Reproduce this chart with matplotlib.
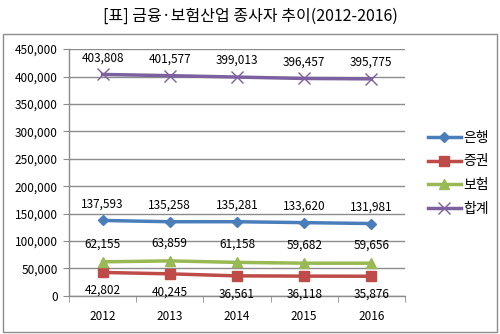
import matplotlib
matplotlib.use("Agg")
import matplotlib.pyplot as plt
from matplotlib.patches import Rectangle
from matplotlib.ticker import FuncFormatter

plt.rcParams['font.family'] = ['Noto Sans CJK KR', 'DejaVu Sans']

years = ["2012", "2013", "2014", "2015", "2016"]
bank = [137593, 135258, 135281, 133620, 131981]
securities = [42802, 40245, 36561, 36118, 35876]
insurance = [62155, 63859, 61158, 59682, 59656]
total = [403808, 401577, 399013, 396457, 395775]
series_names = ["은행", "증권", "보험", "합계"]
title = "[표] 금융·보험산업 종사자 추이(2012-2016)"

fig = plt.figure(figsize=(5, 3.34), dpi=100)
fig.patches.append(Rectangle((0.006, 0.006), 0.988, 0.892, transform=fig.transFigure,
                             fill=False, edgecolor="#8c8c8c", linewidth=1.0))
fig.text(0.5, 0.952, title, ha="center", va="center", fontsize=11.5, color="#000000")

ax = fig.add_axes([0.138, 0.114, 0.672, 0.739])
x = list(range(len(years)))

styles = [
    (bank, "#4A7EBB", "D", 5.5, 1, 12),
    (securities, "#BE4B48", "s", 7.5, -1, 13),
    (insurance, "#98B954", "^", 7.5, 1, 13),
    (total, "#7D60A0", "x", 8, 1, 12),
]
for (vals, col, mk, ms, side, off), name in zip(styles, series_names):
    ax.plot(x, vals, color=col, marker=mk, markersize=ms, linewidth=2.5,
            markeredgewidth=1.0 if mk == "x" else 1, markeredgecolor=col,
            markerfacecolor=col, label=name, zorder=3)
    for xi, v in zip(x, vals):
        ax.annotate(f"{v:,}", (xi, v), xytext=(0, side * off), textcoords="offset points",
                    ha="center", va="center", fontsize=8.5, color="#000000")

ax.set_xlim(-0.5, 4.5)
ax.set_ylim(0, 450000)
ax.set_yticks(range(0, 450001, 50000))
ax.yaxis.set_major_formatter(FuncFormatter(lambda v, p: f"{int(v):,}"))
ax.set_xticks(x)
ax.set_xticklabels(years)
ax.set_xticks([i - 0.5 for i in range(6)], minor=True)
ax.tick_params(axis="x", which="major", length=0, pad=10, labelsize=8.5)
ax.tick_params(axis="x", which="minor", length=4, color="#8c8c8c")
ax.tick_params(axis="y", length=4, color="#8c8c8c", labelsize=8.5, pad=4)
ax.grid(axis="y", color="#8c8c8c", linewidth=1)
ax.set_axisbelow(True)
for s in ["top", "right"]:
    ax.spines[s].set_visible(False)
for s in ["left", "bottom"]:
    ax.spines[s].set_color("#8c8c8c")
    ax.spines[s].set_linewidth(1)

ax.legend(loc="upper left", bbox_to_anchor=(1.03, 0.72), frameon=False, fontsize=10,
          handlelength=2.4, labelspacing=0.7, handletextpad=0.2)

fig.savefig("out.png", dpi=100)
